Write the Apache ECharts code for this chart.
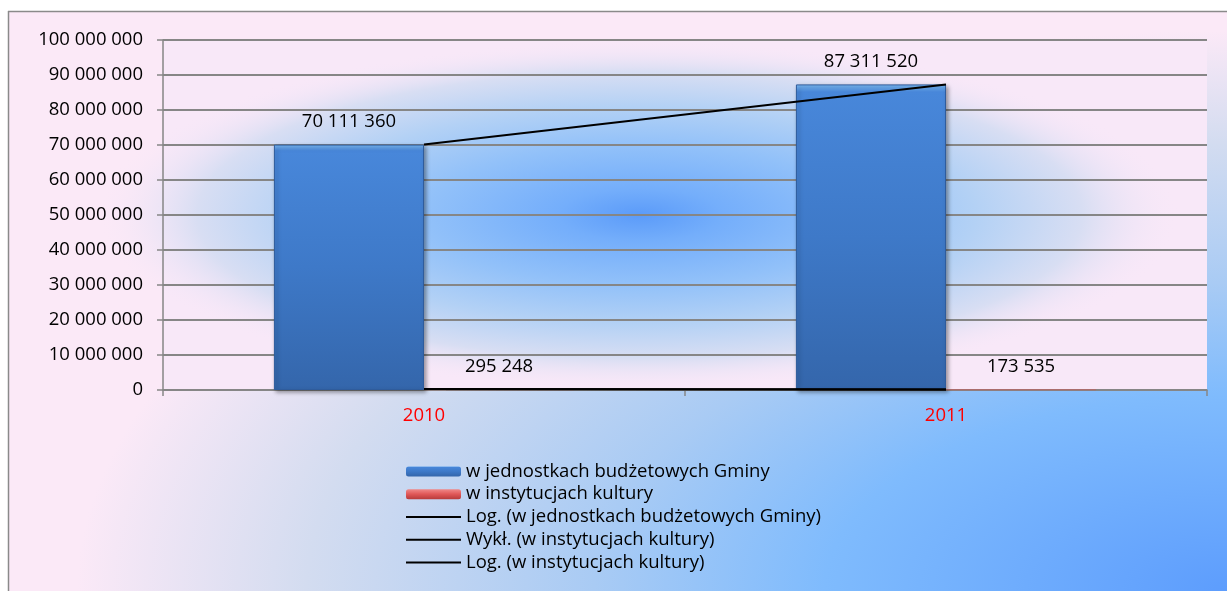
<!DOCTYPE html>
<html>
<head>
    <meta charset="utf-8">
    <title>Wydatki</title>
    <script src="https://cdn.jsdelivr.net/npm/echarts@6/dist/echarts.min.js"></script>
    <style>
        html, body { margin: 0; padding: 0; background: #fff; }
        #main { width: 1227px; height: 591px; }
    </style>
</head>
<body>
<div id="main"></div>
<script type="text/javascript">
    // dane z wykresu
    var lata = ['2010', '2011'];
    var jednostki = [70111360, 87311520];
    var kultura = [295248, 173535];
    var trendLogJedn = [70111360, 87311520];
    var trendWykKult = [295248, 173535];
    var trendLogKult = [295248, 173535];
    var osY = { min: 0, max: 100000000, interval: 10000000 };

    var FONT = 'Open Sans';
    var FS = 18.5;

    function fmt(v) {
        return String(Math.round(v)).replace(/\B(?=(\d{3})+(?!\d))/g, ' ');
    }

    var myChart = echarts.init(document.getElementById('main'));

    var blueFill = {
        type: 'linear', x: 0, y: 0, x2: 0, y2: 1,
        colorStops: [
            { offset: 0, color: '#7dbdf8' },
            { offset: 0.025, color: '#4887da' },
            { offset: 0.5, color: '#3e79c8' },
            { offset: 1, color: '#3466ab' }
        ]
    };
    var redFill = {
        type: 'linear', x: 0, y: 0, x2: 0, y2: 1,
        colorStops: [
            { offset: 0, color: '#f08a8a' },
            { offset: 0.5, color: '#e05858' },
            { offset: 1, color: '#b83c3c' }
        ]
    };

    // linie trendu: bez znacznikow (takze w legendzie)
    function trend(name, data) {
        return {
            name: name,
            type: 'line',
            data: data,
            symbol: 'none',
            lineStyle: { color: '#000', width: 2 },
            itemStyle: { color: 'rgba(0,0,0,0)', borderWidth: 0 },
            z: 5
        };
    }

    myChart.setOption({
        animation: false,
        textStyle: { fontFamily: FONT },
        graphic: [
            // tlo calego wykresu
            {
                type: 'rect', z: -30, silent: true,
                shape: { x: -2400, y: -2400, width: 4800, height: 4800 },
                x: 1227, y: 591, scaleY: 560 / 1150,
                style: {
                    fill: {
                        type: 'radial', x: 0.5, y: 0.5, r: 1150 / 4800,
                        colorStops: [
                            { offset: 0, color: '#5d9dfd' },
                            { offset: 0.35, color: '#7fbbfd' },
                            { offset: 0.55, color: '#a9cbf4' },
                            { offset: 0.8, color: '#d3dcf0' },
                            { offset: 1, color: '#fbe9f7' }
                        ]
                    }
                }
            },
            { type: 'rect', z: -29, silent: true, shape: { x: 0, y: 0, width: 1227, height: 11 }, style: { fill: '#fff' } },
            { type: 'rect', z: -29, silent: true, shape: { x: 0, y: 0, width: 8, height: 591 }, style: { fill: '#fff' } },
            // tlo obszaru kreslenia (prostokat przyciety do obszaru wykresu)
            {
                type: 'group', z: -28, silent: true,
                children: [
                    { type: 'rect', z: -28, shape: { x: 163, y: 40, width: 1044, height: 350 }, style: { fill: '#f8e8f8' } },
                    {
                        type: 'rect', z: -28,
                        shape: { x: -540, y: -540, width: 1080, height: 1080 },
                        x: 640, y: 215, scaleY: 175 / 540,
                        style: {
                            fill: {
                                type: 'radial', x: 0.5, y: 0.5, r: 0.5,
                                colorStops: [
                                    { offset: 0, color: '#5b9bf9' },
                                    { offset: 0.15, color: '#74aefb' },
                                    { offset: 0.4, color: '#92c1f9' },
                                    { offset: 0.62, color: '#b3d1f5' },
                                    { offset: 0.82, color: '#d8def3' },
                                    { offset: 1, color: 'rgba(248,232,248,0)' }
                                ]
                            }
                        }
                    }
                ]
            },
            // ramka
            { type: 'line', z: -27, silent: true, shape: { x1: 8.5, y1: 11, x2: 8.5, y2: 591 }, style: { stroke: '#8a8a8a', lineWidth: 1.5 } },
            { type: 'line', z: -27, silent: true, shape: { x1: 8, y1: 11.5, x2: 1227, y2: 11.5 }, style: { stroke: '#8a8a8a', lineWidth: 1.5 } }
        ],
        grid: {
            left: 163,
            right: 20,
            top: 40,
            bottom: 201
        },
        legend: {
            orient: 'vertical',
            left: 400,
            top: 455,
            itemWidth: 55,
            itemHeight: 10,
            itemGap: 0,
            itemStyle: { borderWidth: 0 },
            textStyle: { fontFamily: FONT, fontSize: FS, color: '#000', lineHeight: 22.75 },
            data: [
                'w jednostkach budżetowych Gminy',
                'w instytucjach kultury',
                'Log. (w jednostkach budżetowych Gminy)',
                'Wykł. (w instytucjach kultury)',
                'Log. (w instytucjach kultury)'
            ]
        },
        xAxis: {
            type: 'category',
            data: lata,
            axisLine: { lineStyle: { color: '#868686', width: 1.5 } },
            axisTick: { show: true, length: 6, lineStyle: { color: '#868686', width: 1.5 } },
            axisLabel: { color: '#ff0000', fontSize: FS, fontFamily: FONT, margin: 16 }
        },
        yAxis: {
            type: 'value',
            min: osY.min,
            max: osY.max,
            interval: osY.interval,
            axisLine: { show: true, lineStyle: { color: '#868686', width: 1.5 } },
            axisTick: { show: true, length: 6, lineStyle: { color: '#868686', width: 1.5 } },
            splitLine: { lineStyle: { color: '#868686', width: 2 } },
            axisLabel: {
                color: '#000', fontSize: FS, fontFamily: FONT, margin: 20,
                formatter: function (v) { return fmt(v); }
            }
        },
        series: [
            {
                name: 'w jednostkach budżetowych Gminy',
                type: 'bar',
                data: jednostki,
                barGap: '0%',
                barCategoryGap: '42.5%',
                itemStyle: {
                    color: blueFill,
                    borderColor: '#2f5c9c',
                    borderWidth: 1,
                    shadowColor: 'rgba(0,0,0,0.35)',
                    shadowBlur: 4,
                    shadowOffsetX: 2,
                    shadowOffsetY: 2
                },
                label: {
                    show: true, position: 'top', distance: 13,
                    color: '#000', fontSize: FS, fontFamily: FONT,
                    formatter: function (p) { return fmt(p.value); }
                }
            },
            {
                name: 'w instytucjach kultury',
                type: 'bar',
                data: kultura,
                itemStyle: { color: redFill, borderColor: '#c06060', borderWidth: 0.5 },
                label: {
                    show: true, position: 'top', distance: 13,
                    color: '#000', fontSize: FS, fontFamily: FONT,
                    formatter: function (p) { return fmt(p.value); }
                }
            },
            trend('Log. (w jednostkach budżetowych Gminy)', trendLogJedn),
            trend('Wykł. (w instytucjach kultury)', trendWykKult),
            trend('Log. (w instytucjach kultury)', trendLogKult)
        ]
    });
</script>
</body>
</html>
